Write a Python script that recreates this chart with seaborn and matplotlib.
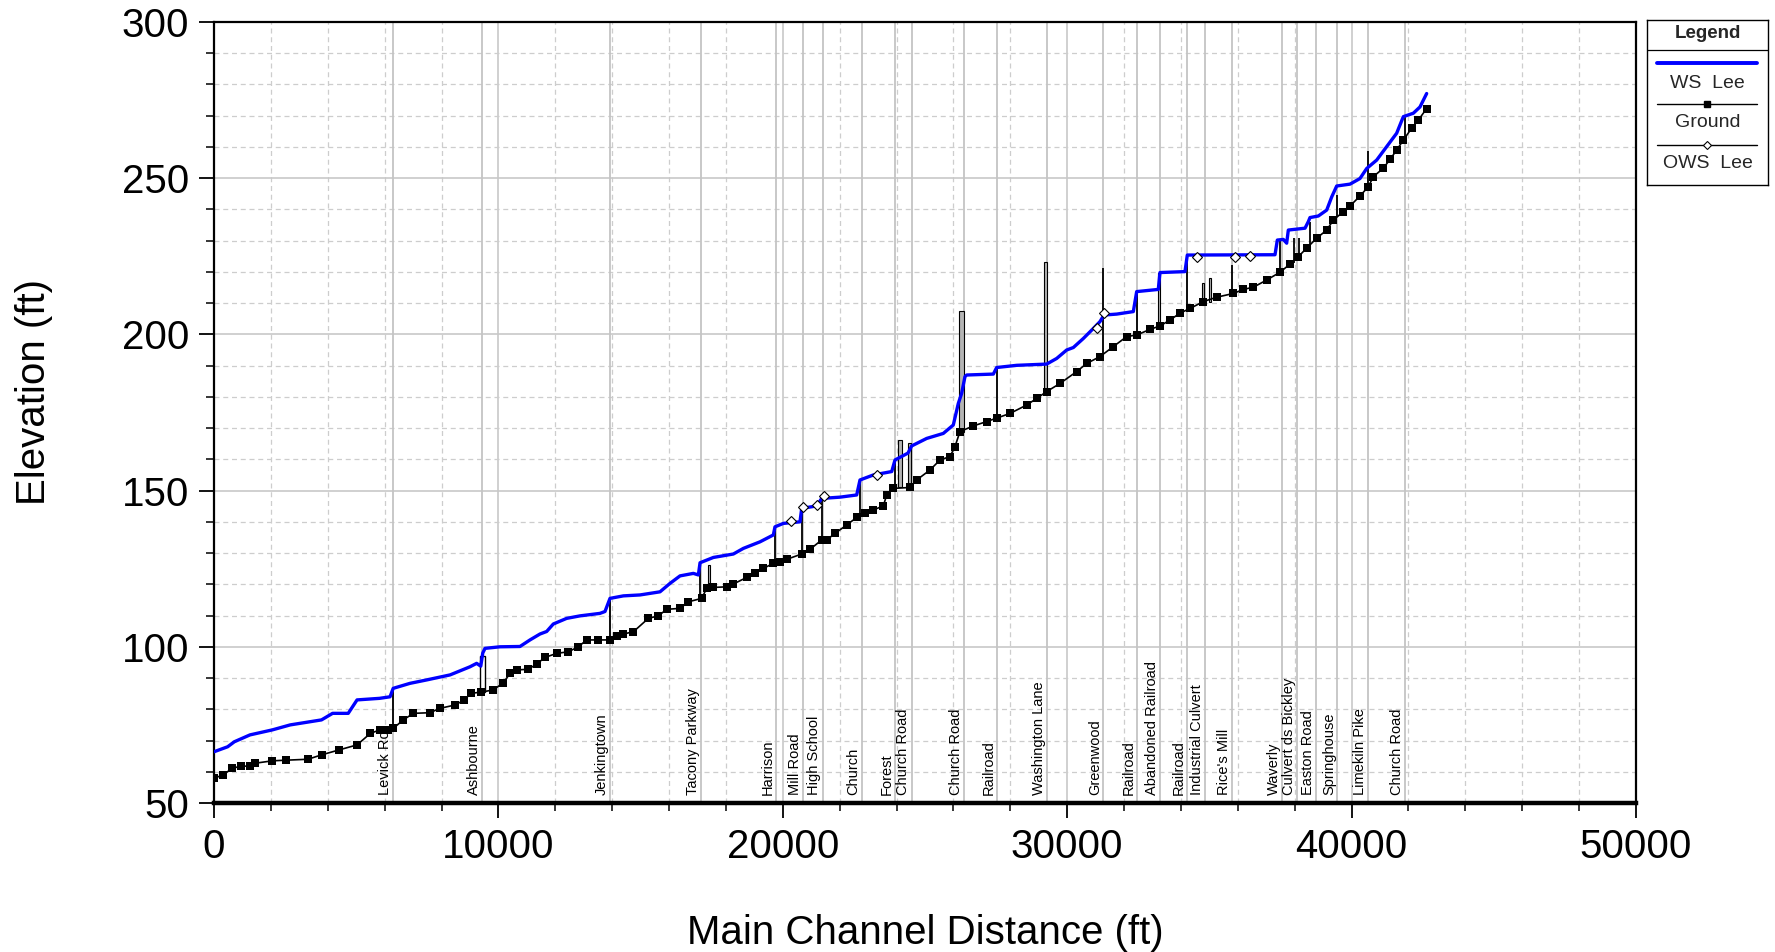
import matplotlib
matplotlib.use("Agg")
import matplotlib.pyplot as plt
import seaborn as sns
import pandas as pd
from matplotlib.ticker import MultipleLocator
from matplotlib.lines import Line2D

# ---------------- data ----------------
ws_station = [0, 480, 715, 1265, 2050, 2680, 3780, 4170, 4720, 5030, 5820, 6190, 6300, 6890,
              7480, 8300, 9000, 9235, 9380, 9450, 9529, 10056, 10759, 11111, 11463, 11697,
              11931, 12400, 12869, 13572, 13748, 13924, 14393, 14980, 15682, 16034, 16386,
              16855, 17031, 17090, 17558, 18261, 18613, 19198, 19667, 19725, 20018, 20604,
              20665, 21192, 21368, 22011, 22598, 22714, 23183, 23830, 23945, 24400, 24532,
              25059, 25643, 25995, 26171, 26288, 26406, 26465, 27403, 27520, 28224, 29278,
              29630, 29981, 30216, 30568, 30919, 31153, 31294, 31741, 32325, 32443, 33203,
              33262, 34141, 34223, 37307, 37389, 37600, 37717, 37775, 38362, 38479, 38537,
              38830, 39125, 39300, 39476, 39944, 40295, 40530, 40882, 41233, 41585, 41819,
              42170, 42404, 42639]
ws_elev = [66.4, 68.0, 69.6, 71.8, 73.4, 75.0, 76.6, 78.7, 78.7, 83.0, 83.5, 84.0, 86.7, 88.3,
           89.4, 91.0, 93.6, 94.7, 93.8, 98.0, 99.5, 100.0, 100.1, 102.2, 104.1, 104.9,
           107.3, 109.1, 109.9, 110.7, 111.3, 115.5, 116.3, 116.6, 117.6, 120.3, 122.7,
           123.5, 123.0, 126.9, 128.6, 129.7, 131.5, 133.6, 135.8, 138.4, 139.5, 140.0,
           144.3, 145.1, 147.5, 147.9, 148.6, 153.4, 155.0, 156.1, 159.8, 162.0, 164.3,
           166.7, 168.3, 171.0, 177.9, 181.1, 186.5, 187.0, 187.3, 189.4, 190.1, 190.5,
           192.3, 195.0, 195.8, 198.7, 201.9, 204.1, 206.2, 206.5, 207.3, 213.7, 214.4,
           219.8, 220.1, 225.4, 225.5, 230.2, 230.4, 229.2, 233.4, 234.0, 236.1, 237.4,
           237.9, 239.8, 244.0, 247.5, 248.1, 249.9, 253.1, 255.8, 260.1, 264.4, 269.7,
           270.8, 272.8, 277.1]

ground_station = [0, 320, 640, 950, 1265, 1425, 2050, 2520, 3300, 3780, 4400, 5030, 5500,
                  5835, 6130, 6305, 6655, 7010, 7595, 7945, 8490, 8800, 9035, 9400, 9822,
                  10175, 10410, 10645, 11053, 11346, 11639, 12049, 12459, 12810, 13103, 13500,
                  13924, 14158, 14393, 14745, 15272, 15624, 15917, 16386, 16679, 17148, 17324,
                  17558, 18027, 18261, 18730, 19022, 19315, 19667, 19901, 20137, 20665, 20956,
                  21368, 21544, 21835, 22247, 22598, 22891, 23183, 23535, 23652, 23886, 24473,
                  24707, 25176, 25527, 25879, 26055, 26230, 26699, 27168, 27520, 27989, 28575,
                  28927, 29278, 29747, 30333, 30685, 31153, 31622, 32091, 32443, 32911, 33263,
                  33614, 33966, 34318, 34787, 35256, 35841, 36193, 36545, 37014, 37482, 37834,
                  38127, 38420, 38772, 39125, 39359, 39711, 39944, 40295, 40589, 40765, 41116,
                  41350, 41585, 41819, 42112, 42346, 42639]
ground_elev = [57.9, 59.0, 61.1, 61.8, 61.8, 62.7, 63.5, 63.7, 64.0, 65.4, 67.0, 68.6, 72.3,
               73.4, 73.4, 73.9, 76.6, 78.7, 78.9, 80.3, 81.4, 83.0, 85.1, 85.5, 86.2,
               88.5, 91.5, 92.6, 92.8, 94.5, 96.6, 97.9, 98.4, 100.0, 102.2, 102.2,
               102.2, 103.5, 104.1, 104.8, 109.1, 109.9, 112.0, 112.3, 114.4, 115.5, 118.7,
               119.0, 119.2, 120.1, 122.2, 123.7, 125.1, 126.7, 127.2, 128.0, 129.7, 131.2,
               134.2, 134.2, 136.3, 139.0, 141.4, 142.7, 143.8, 145.1, 148.6, 150.7, 151.0,
               153.4, 156.6, 159.8, 160.9, 164.1, 168.9, 170.7, 172.1, 173.2, 174.7, 177.4,
               179.5, 181.7, 184.3, 188.1, 190.7, 192.9, 196.1, 199.3, 199.8, 201.6, 202.7,
               204.6, 206.8, 208.3, 210.5, 211.9, 213.1, 214.4, 215.1, 217.4, 219.9, 222.5,
               224.9, 227.6, 230.8, 233.4, 236.6, 239.3, 241.1, 244.3, 247.3, 250.5, 253.2,
               256.0, 259.0, 262.2, 266.0, 268.6, 272.3]

ows_station = [20271, 20722, 21215, 21462, 23300, 31036, 31294, 34551, 35900, 36428]
ows_elev = [140.3, 144.6, 145.3, 148.2, 155.0, 202.2, 206.8, 224.9, 224.8, 225.0]

bridge_names = ["Levick Ro", "Ashbourne", "Jenkingtown", "Tacony Parkway", "Harrison",
                "Mill Road", "High School", "Church", "Forest", "Church Road", "Church Road",
                "Railroad", "Washington Lane", "Greenwood", "Railroad", "Abandoned Railroad",
                "Railroad", "Industrial Culvert", "Rice's Mill", "Waverly",
                "Culvert ds Bickley", "Easton Road", "Springhouse", "Limekiln Pike",
                "Church Road"]
bridge_station = [6305, 9435, 13925, 17113, 19770, 20700, 21400, 22775, 23945, 24530, 26370,
                  27540, 29300, 31270, 32465, 33265, 34200, 34845, 35785, 37540, 38070, 38750,
                  39500, 40570, 41880]

# structure profiles drawn as thin lines (station, low, top)
deck_line_station = [6305, 13924, 17090, 19740, 20665, 21368, 22714, 23945, 27520, 31250,
                     32443, 34223, 35800, 37482, 37960, 38150, 38540, 39476, 40589, 41880]
deck_line_low = [73.9, 102.2, 115.5, 126.7, 129.7, 134.2, 141.4, 150.7, 173.2, 192.9,
                 199.8, 208.3, 213.1, 219.9, 223.0, 224.5, 227.6, 237.5, 247.3, 262.5]
deck_line_high = [86.7, 115.5, 126.9, 138.4, 144.3, 147.5, 153.4, 159.8, 189.4, 221.4,
                  213.7, 225.4, 222.2, 230.2, 230.8, 230.8, 236.1, 244.5, 258.6, 269.7]

# structure profiles drawn as filled blocks (centre station, width, low, high)
deck_bar_station = [17410, 24122, 24461, 26290, 29243, 33240, 34780, 35010]
deck_bar_width = [60, 116, 94, 165, 94, 60, 70, 70]
deck_bar_low = [118.7, 151.0, 151.0, 168.9, 181.7, 202.7, 209.5, 210.5]
deck_bar_high = [126.2, 166.2, 165.3, 207.5, 223.2, 219.8, 216.5, 218.0]

open_bar_station = [9440]
open_bar_width = [170]
open_bar_low = [85.5]
open_bar_high = [97.0]

x_ticks = [0, 10000, 20000, 30000, 40000, 50000]
y_ticks = [50, 100, 150, 200, 250, 300]

# ---------------- styling ----------------
sns.set_style("white")
plt.rcParams['font.family'] = ['Liberation Sans', 'DejaVu Sans']

fig = plt.figure(figsize=(17.75, 9.52), dpi=100)
ax = fig.add_axes([214/1775, 1-803/952, 1422/1775, 781/952])

ax.set_xlim(0, 50000)
ax.set_ylim(50, 300)
ax.set_xticks(x_ticks)
ax.set_yticks(y_ticks)
ax.xaxis.set_minor_locator(MultipleLocator(2000))
ax.yaxis.set_minor_locator(MultipleLocator(10))
ax.grid(which='major', color='#c8c8c8', linewidth=1.2, linestyle='-', zorder=0)
ax.grid(which='minor', color='#cdcdcd', linewidth=0.9, linestyle=(0, (4, 3)), zorder=0)
ax.set_axisbelow(True)

ax.tick_params(axis='both', which='major', direction='out', length=11, width=1.3,
               labelsize=29, pad=7, colors='black')
ax.tick_params(axis='both', which='minor', direction='out', length=6, width=1.1,
               colors='black')
ax.tick_params(axis='y', which='both', left=True, right=False)
ax.tick_params(axis='x', which='both', bottom=True, top=False)
for s in ['left', 'top', 'right']:
    ax.spines[s].set_color('black')
    ax.spines[s].set_linewidth(1.6)
ax.spines['bottom'].set_color('black')
ax.spines['bottom'].set_linewidth(3.2)

# bridge station lines and labels
for name, st in zip(bridge_names, bridge_station):
    ax.axvline(st, color='#c4c4c4', linewidth=1.3, zorder=1)
    ax.text(st - 40, 52.5, name, rotation=90, ha='right', va='bottom', fontsize=10.5,
            color='black', zorder=6)

# structures
ax.vlines(deck_line_station, deck_line_low, deck_line_high, colors='black',
          linewidth=1.3, zorder=3)
ax.bar(deck_bar_station, [h - l for h, l in zip(deck_bar_high, deck_bar_low)],
       width=deck_bar_width, bottom=deck_bar_low, color='#b4b4b4', edgecolor='black',
       linewidth=0.8, zorder=3)
ax.bar(open_bar_station, [h - l for h, l in zip(open_bar_high, open_bar_low)],
       width=open_bar_width, bottom=open_bar_low, color='white', edgecolor='black',
       linewidth=1.0, zorder=3)

ws_df = pd.DataFrame({'station': ws_station, 'elev': ws_elev})
gr_df = pd.DataFrame({'station': ground_station, 'elev': ground_elev})
ows_df = pd.DataFrame({'station': ows_station, 'elev': ows_elev})

sns.lineplot(data=gr_df, x='station', y='elev', ax=ax, color='black', linewidth=1.2,
             marker='s', markersize=6.2, markeredgewidth=0, estimator=None, sort=False,
             zorder=4)
sns.lineplot(data=ws_df, x='station', y='elev', ax=ax, color='#0000ff', linewidth=2.4,
             estimator=None, sort=False, zorder=5)
ax.plot(ows_df['station'], ows_df['elev'], linestyle='none', marker='D', markersize=5.5,
        markerfacecolor='white', markeredgecolor='black', markeredgewidth=0.8, zorder=6)

ax.set_xlabel('Main Channel Distance (ft)', fontsize=29, color='black')
ax.set_ylabel('Elevation (ft)', fontsize=29, color='black')
ax.xaxis.set_label_coords(0.5, -0.142)
ax.yaxis.set_label_coords(-0.113, 0.526)

# ---------------- legend box ----------------
lax = fig.add_axes([1647/1775, 1-185/952, 121/1775, 165/952])
lax.set_xlim(0, 1)
lax.set_ylim(1, 0)
lax.set_xticks([])
lax.set_yticks([])
for s in lax.spines.values():
    s.set_color('black')
    s.set_linewidth(1.0)
lax.set_facecolor('white')
lax.text(0.5, 0.08, 'Legend', ha='center', va='center', fontsize=13.5, fontweight='bold')
lax.add_line(Line2D([0, 1], [0.182, 0.182], color='black', linewidth=0.9))
lax.add_line(Line2D([0.083, 0.909], [0.26, 0.26], color='#0000ff', linewidth=2.8))
lax.text(0.5, 0.382, 'WS  Lee', ha='center', va='center', fontsize=14)
lax.add_line(Line2D([0.083, 0.909], [0.509, 0.509], color='black', linewidth=1.0))
lax.add_line(Line2D([0.496], [0.509], marker='s', markersize=4.5, color='black'))
lax.text(0.5, 0.624, 'Ground', ha='center', va='center', fontsize=14)
lax.add_line(Line2D([0.083, 0.909], [0.758, 0.758], color='black', linewidth=1.0))
lax.add_line(Line2D([0.496], [0.758], marker='D', markersize=4.5, markerfacecolor='white',
                    markeredgecolor='black', markeredgewidth=0.8))
lax.text(0.5, 0.867, 'OWS  Lee', ha='center', va='center', fontsize=14)

fig.savefig('out.png', dpi=100)
